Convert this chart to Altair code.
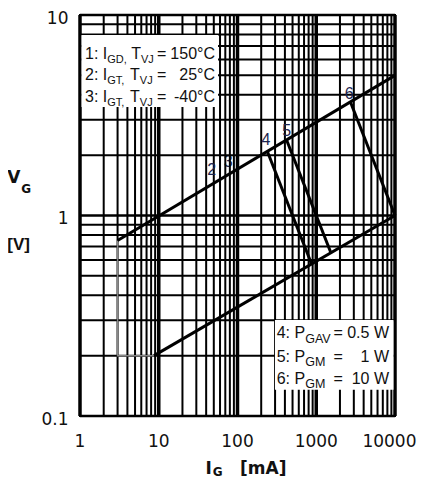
import altair as alt
import pandas as pd

# ---------------- data ----------------
x_grid_minor = [2, 3, 4, 5, 6, 7, 8, 9,
                20, 30, 40, 50, 60, 70, 80, 90,
                200, 300, 400, 500, 600, 700, 800, 900,
                2000, 3000, 4000, 5000, 6000, 7000, 8000, 9000]
x_grid_major = [1, 10, 100, 1000, 10000]
y_grid_minor = [0.2, 0.3, 0.4, 0.5, 0.6, 0.7, 0.8, 0.9,
                2, 3, 4, 5, 6, 7, 8, 9]
y_grid_major = [0.1, 1, 10]
x_ticks = [1, 10, 100, 1000, 10000]
x_tick_labels = ["1", "10", "100", "1000", "10000"]
y_ticks = [0.1, 1, 10]

upper_I = [3, 10000]
upper_V = [0.75, 5.0]
lower_I = [8.7, 10000]
lower_V = [0.2, 1.0]
corner_I = [3, 3, 8.7]
corner_V = [0.75, 0.2, 0.2]
p4_I = [239, 877]
p4_V = [2.09, 0.57]
p5_I = [420, 1543]
p5_V = [2.38, 0.648]
p6_I = [2711, 10000]
p6_V = [3.69, 1.0]

curve_labels = ["2", "3", "4", "5", "6"]
label_I = [47, 76, 230, 422, 2630]
label_V = [1.69, 1.85, 2.38, 2.65, 4.04]

box1_I = [1.045, 56.6]
box1_V = [3.48, 7.95]
box2_I = [299, 9570]
box2_V = [0.135, 0.301]

legend1 = [("1: I", "GD,", "T", "VJ", "150°C"),
           ("2: I", "GT,", "T", "VJ", "25°C"),
           ("3: I", "GT,", "T", "VJ", "-40°C")]
legend2 = [("4: P", "GAV", "0.5 W"),
           ("5: P", "GM", "1 W"),
           ("6: P", "GM", "10 W")]

# ---------------- helpers ----------------
def build(series, I, V):
    return [{"series": series, "order": k, "I": a, "V": b}
            for k, (a, b) in enumerate(zip(I, V))]

lines_df = pd.DataFrame(build("upper", upper_I, upper_V)
                        + build("lower", lower_I, lower_V)
                        + build("p4", p4_I, p4_V)
                        + build("p5", p5_I, p5_V)
                        + build("p6", p6_I, p6_V))
corner_df = pd.DataFrame(build("corner", corner_I, corner_V))
labels_df = pd.DataFrame({"t": curve_labels, "I": label_I, "V": label_V})
boxes_df = pd.DataFrame({"x1": [box1_I[0], box2_I[0]], "x2": [box1_I[1], box2_I[1]],
                         "y1": [box1_V[0], box2_V[0]], "y2": [box1_V[1], box2_V[1]]})
xt_df = pd.DataFrame({"I": x_ticks, "t": x_tick_labels})

xs = alt.Scale(type="log", domain=[1, 10000], nice=False)
ys = alt.Scale(type="log", domain=[0.1, 10], nice=False)
yaxis = alt.Axis(values=y_ticks, format="~g", title=None, grid=False, domain=False,
                 ticks=False, tickSize=0, labelFont="DejaVu Sans", labelFontSize=17,
                 labelColor="#111", labelPadding=12, labelOffset=3, labelFlush=False,
                 labelOverlap=False)
X = alt.X("I:Q", scale=xs, axis=None)
Y = alt.Y("V:Q", scale=ys, axis=yaxis)

W = {' ': 278, ',': 278, '-': 333, '.': 278, ':': 278, '=': 584, '°': 400,
     'A': 667, 'C': 722, 'D': 722, 'G': 778, 'I': 278, 'J': 500, 'M': 833,
     'P': 667, 'T': 611, 'V': 667, 'W': 944}
def tw(s, size):
    return sum(W.get(c, 556) for c in s) * size / 1000.0

one = pd.DataFrame({"a": [0]})
TXT = "#111"
def txt(t, px, py, size, font="Liberation Sans", weight="normal", align="left", color=TXT):
    return alt.Chart(one).mark_text(text=t, align=align, baseline="alphabetic", font=font,
                                    fontSize=size, fontWeight=weight, color=color).encode(
        x=alt.value(px), y=alt.value(py))

# ---------------- layers ----------------
lab3 = alt.Chart(labels_df[labels_df.t == "3"]).mark_text(
    font="Liberation Sans", fontSize=16, color="#1c2550").encode(x=X, y=Y, text="t:N")

xminor = alt.Chart(pd.DataFrame({"I": x_grid_minor})).mark_rule(color="black", strokeWidth=2).encode(x=X)
xmajor = alt.Chart(pd.DataFrame({"I": x_grid_major})).mark_rule(color="black", strokeWidth=3.5).encode(x=X)
yminor = alt.Chart(pd.DataFrame({"V": y_grid_minor})).mark_rule(color="black", strokeWidth=2).encode(y=Y)
ymajor = alt.Chart(pd.DataFrame({"V": y_grid_major})).mark_rule(color="black", strokeWidth=2.5).encode(y=Y)

corner = alt.Chart(corner_df).mark_line(color="#888", strokeWidth=1.5).encode(
    x=X, y=Y, order="order:Q")
curves = alt.Chart(lines_df).mark_line(color="black", strokeWidth=3).encode(
    x=X, y=Y, detail="series:N", order="order:Q")

boxes = alt.Chart(boxes_df).mark_rect(color="white").encode(
    x=alt.X("x1:Q", scale=xs, axis=None), x2="x2:Q",
    y=alt.Y("y1:Q", scale=ys, axis=yaxis), y2="y2:Q")

labs = alt.Chart(labels_df[labels_df.t != "3"]).mark_text(
    font="Liberation Sans", fontSize=16, color="#1c2550").encode(x=X, y=Y, text="t:N")

# x tick labels (last one kept inside the page)
xt_main = alt.Chart(xt_df[xt_df.I < 10000]).mark_text(
    font="DejaVu Sans", fontSize=17, color="#111", baseline="alphabetic", align="center").encode(
    x=X, y=alt.value(432.3), text="t:N")
xt_last = alt.Chart(xt_df[xt_df.I >= 10000]).mark_text(
    font="DejaVu Sans", fontSize=17, color="#111", baseline="alphabetic", align="right", dx=21.5).encode(
    x=X, y=alt.value(432.3), text="t:N")

texts = []
# legend box 1
base1 = [43.5, 65, 86.5]
for (pre, sub1, mid, sub2, val), by in zip(legend1, base1):
    x0 = 5
    texts.append(txt(pre, x0, by, 16))
    x0 += tw(pre, 16)
    texts.append(txt(sub1, x0, by + 4, 11))
    x0 += tw(sub1, 11) + tw(" ", 16)
    texts.append(txt(mid, x0, by, 16))
    x0 += tw(mid, 16)
    texts.append(txt(sub2, x0, by + 4, 11))
    texts.append(txt("=", 77, by, 16))
    texts.append(txt(val, 135, by, 16, align="right"))
# legend box 2
base2 = [323.3, 346.5, 368.5]
for (pre, sub, val), by in zip(legend2, base2):
    x0 = 196.7
    texts.append(txt(pre, x0, by, 16))
    x0 += tw(pre, 16)
    texts.append(txt(sub, x0, by + 4.5, 12.5))
    texts.append(txt("=", 253.5, by, 16))
    texts.append(txt(val, 309, by, 16, align="right"))

# axis titles
texts.append(txt("V", -72.7, 168.3, 17, font="DejaVu Sans", weight="bold"))
texts.append(txt("G", -58.8, 178, 12, font="DejaVu Sans", weight="bold"))
texts.append(txt("[V]", -72.7, 235, 17, font="Liberation Sans", weight="bold"))
texts.append(txt("I", 125.5, 458.5, 17, font="DejaVu Sans", weight="bold"))
texts.append(txt("G", 132.7, 460.5, 12, font="DejaVu Sans", weight="bold"))
texts.append(txt("[mA]", 160, 458.5, 17, font="DejaVu Sans", weight="bold"))

chart = alt.layer(lab3, xminor, xmajor, yminor, ymajor, corner, curves, boxes, labs,
                  xt_main, xt_last, *texts).properties(
    width=315, height=401,
    autosize=alt.AutoSizeParams(type="none"),
    padding={"left": 72, "top": 7, "right": 22, "bottom": 61},
).configure_view(stroke="black", strokeWidth=2)

chart.save("out.html", embed_options={"renderer": "svg", "actions": False})
